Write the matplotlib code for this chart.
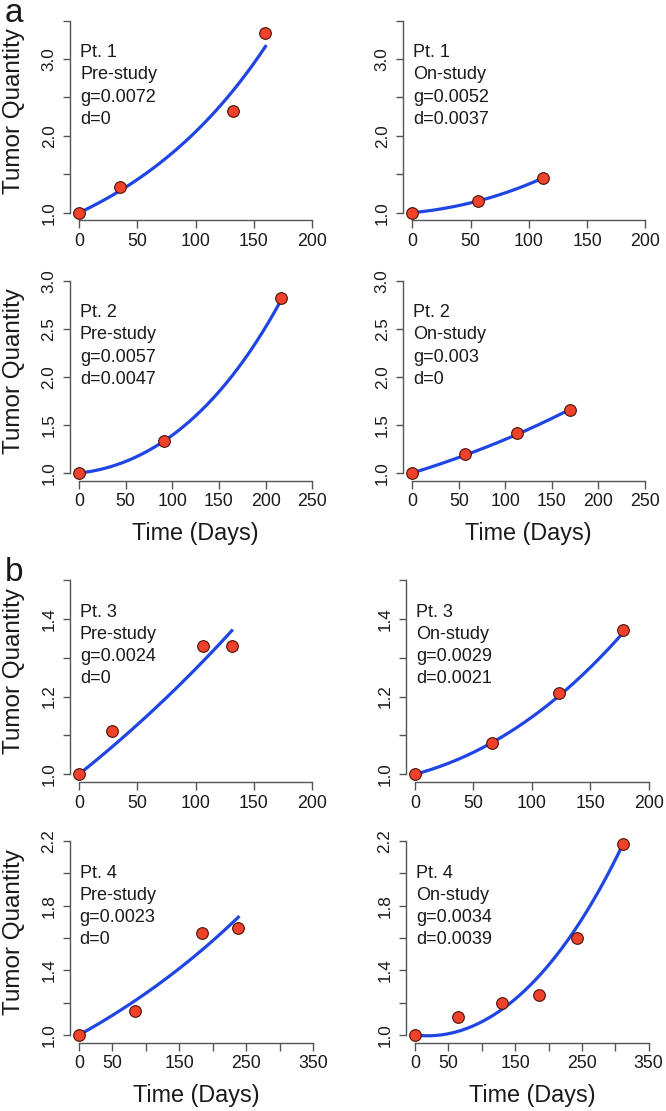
import numpy as np
import matplotlib
matplotlib.use('Agg')
import matplotlib.pyplot as plt

# Data section

patients = ['Pt. 1', 'Pt. 1', 'Pt. 2', 'Pt. 2', 'Pt. 3', 'Pt. 3', 'Pt. 4', 'Pt. 4']
phases = ['Pre-study', 'On-study', 'Pre-study', 'On-study',
          'Pre-study', 'On-study', 'Pre-study', 'On-study']
g_labels = ['0.0072', '0.0052', '0.0057', '0.003', '0.0024', '0.0029', '0.0023', '0.0034']
d_labels = ['0', '0.0037', '0.0047', '0', '0', '0.0021', '0', '0.0039']

days = [
    [0, 35, 132, 160],
    [0, 56, 112],
    [0, 91, 217],
    [0, 57, 113, 169],
    [0, 28, 106, 131],
    [0, 66, 123, 178],
    [0, 84, 183, 238],
    [0, 65, 130, 186, 242, 312],
]
quantity = [
    [1.0, 1.33, 2.33, 3.34],
    [1.0, 1.15, 1.45],
    [1.0, 1.33, 2.82],
    [1.0, 1.20, 1.42, 1.66],
    [1.0, 1.11, 1.33, 1.33],
    [1.0, 1.08, 1.21, 1.37],
    [1.0, 1.15, 1.63, 1.66],
    [1.0, 1.11, 1.20, 1.245, 1.60, 2.18],
]

# axis settings per row
x_max = [200, 250, 200, 350]
x_step = [50, 50, 50, 50]
x_labeled = [[0, 50, 100, 150, 200], [0, 50, 100, 150, 200, 250],
             [0, 50, 100, 150, 200], [0, 50, 150, 250, 350]]
y_max = [3.5, 3.0, 1.5, 2.2]
y_step = [0.5, 0.5, 0.1, 0.2]
y_labeled = [[1.0, 2.0, 3.0], [1.0, 1.5, 2.0, 2.5, 3.0],
             [1.0, 1.2, 1.4], [1.0, 1.4, 1.8, 2.2]]

# axes rectangles in pixels (left, top, right, bottom)
boxes = [
    (70.0, 13.0, 321.3, 220.4), (403.0, 13.0, 654.6, 220.4),
    (69.7, 273.0, 321.6, 480.7), (403.0, 273.0, 654.3, 480.7),
    (69.7, 572.2, 321.6, 782.0), (405.7, 572.2, 658.0, 782.0),
    (69.6, 833.2, 322.7, 1042.8), (405.7, 833.2, 658.0, 1042.8),
]

W, H = 666, 1111
font = ['Liberation Sans', 'DejaVu Sans']
axis_col = '#555555'
text_col = '#1a1a1a'
dot_col = '#F0412A'
line_col = '#1F45E3'


def growth(t, g, d):
    # tumor regression-growth model exp(-d t) + exp(g t) - 1
    return np.exp(-d * t) + np.exp(g * t) - 1


def panel(fig, i):
    row = i // 2
    left, top, right, bottom = boxes[i]
    ax = fig.add_axes([left / W, 1 - bottom / H, (right - left) / W, (bottom - top) / H])

    xm, ym = x_max[row], y_max[row]
    ax.set_xlim(-0.04 * xm, xm * 1.04)
    ax.set_ylim(1 - 0.04 * (ym - 1), ym + 0.04 * (ym - 1))

    g = float(g_labels[i])
    d = float(d_labels[i])
    t = np.linspace(0, days[i][-1], 200)
    ax.plot(t, growth(t, g, d), color=line_col, linewidth=2.3, zorder=2)
    ax.plot(days[i], quantity[i], 'o', markersize=8.4, markerfacecolor=dot_col,
            markeredgecolor='#4a1208', markeredgewidth=0.8, zorder=3)

    xt = np.arange(0, xm + 1, x_step[row])
    ax.set_xticks(xt)
    ax.set_xticklabels([str(int(v)) if v in x_labeled[row] else '' for v in xt])
    yt = np.round(np.arange(1.0, ym + 1e-6, y_step[row]), 2)
    ax.set_yticks(yt)
    ax.set_yticklabels(['%.1f' % v if any(abs(v - w) < 1e-6 for w in y_labeled[row]) else ''
                        for v in yt], rotation=90, va='center')

    for s in ['top', 'right']:
        ax.spines[s].set_visible(False)
    ax.spines['bottom'].set_bounds(0, xm)
    ax.spines['left'].set_bounds(1.0, ym)
    for s in ['bottom', 'left']:
        ax.spines[s].set_color(axis_col)
        ax.spines[s].set_linewidth(1.0)
    ax.tick_params(axis='x', length=5.5, width=1.0, color=axis_col, pad=3.5,
                   labelsize=12.8, labelcolor=text_col)
    ax.tick_params(axis='y', length=5, width=1.0, color=axis_col, pad=4.5,
                   labelsize=12.3, labelcolor=text_col)
    for lab in ax.get_xticklabels() + ax.get_yticklabels():
        lab.set_family(font)

    note = '\n'.join([patients[i], phases[i], 'g=' + g_labels[i], 'd=' + d_labels[i]])
    ax.text(0.04, 0.85, note, transform=ax.transAxes, ha='left', va='top',
            fontsize=13, linespacing=1.4, color=text_col, family=font)

    if i % 2 == 0:
        fig.text(14 / W, 1 - ((top + bottom) / 2 - 6) / H, 'Tumor Quantity', rotation=90,
                 ha='center', va='center', fontsize=17.5, color=text_col, family=font)
    if row in (1, 3):
        fig.text((left + right) / 2 / W, 1 - (bottom + 53) / H, 'Time (Days)',
                 ha='center', va='center', fontsize=16.8, color=text_col, family=font)
    return ax


def main():
    fig = plt.figure(figsize=(W / 100, H / 100), dpi=100)
    fig.patch.set_facecolor('white')
    for i in range(8):
        panel(fig, i)
    fig.text(5 / W, 1 - 22 / H, 'a', ha='left', va='baseline', fontsize=24,
             color=text_col, family=font)
    fig.text(5 / W, 1 - 581 / H, 'b', ha='left', va='baseline', fontsize=24,
             color=text_col, family=font)
    fig.savefig('out.png', dpi=100)
    plt.close()
    return None


if __name__ == "__main__":
    main()

# End of file.
